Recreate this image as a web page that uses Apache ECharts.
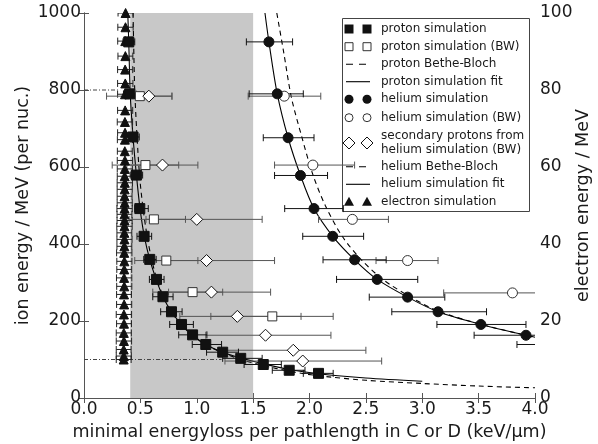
<!DOCTYPE html>
<html>
<head>
<meta charset="utf-8">
<script src="https://cdn.jsdelivr.net/npm/echarts@6/dist/echarts.min.js"></script>
<style>
  html, body { margin: 0; padding: 0; background: #fff; }
  #chart { width: 598px; height: 444px; }
</style>
</head>
<body>
<div id="chart"></div>
<script>
// ---- proton simulation (filled squares): energy per nucleon, energy loss, error range
const protonSimE  = [925, 790, 678, 579, 492, 420, 360, 308, 263, 224, 191, 164, 139, 119, 103, 87, 72, 64];
const protonSimX  = [0.397, 0.405, 0.435, 0.465, 0.495, 0.533, 0.583, 0.643, 0.700, 0.776, 0.865, 0.963, 1.08, 1.23, 1.39, 1.59, 1.82, 2.08];
const protonSimLo = [0.346, 0.350, 0.380, 0.410, 0.450, 0.470, 0.530, 0.580, 0.610, 0.680, 0.760, 0.840, 0.960, 1.087, 1.23, 1.42, 1.67, 1.945];
const protonSimHi = [0.450, 0.460, 0.490, 0.520, 0.570, 0.600, 0.640, 0.710, 0.790, 0.870, 0.970, 1.090, 1.220, 1.370, 1.58, 1.75, 1.96, 2.21];

// ---- proton simulation (BW) (open squares)
const protonBwE  = [784, 605, 464, 357, 275, 212];
const protonBwX  = [0.495, 0.545, 0.62, 0.73, 0.963, 1.67];
const protonBwLo = [0.20, 0.25, 0.40, 0.45, 0.61, 1.125];
const protonBwHi = [0.78, 0.84, 0.90, 1.01, 1.23, 2.21];

// ---- secondary protons from helium simulation (BW) (open diamonds)
const secondaryE  = [784, 605, 464, 357, 275, 212, 163, 124, 96];
const secondaryX  = [0.575, 0.696, 1.00, 1.087, 1.13, 1.36, 1.61, 1.856, 1.94];
const secondaryLo = [0.37, 0.38, 0.55, 0.60, 0.75, 0.85, 1.08, 1.20, 1.25];
const secondaryHi = [0.78, 1.01, 1.58, 1.69, 1.655, 1.925, 2.19, 2.50, 2.64];

// ---- helium simulation (filled circles)
const heliumSimE  = [925, 790, 676, 578, 492, 420, 359, 308, 262, 224, 191, 163, 139];
const heliumSimX  = [1.64, 1.714, 1.81, 1.92, 2.04, 2.206, 2.40, 2.60, 2.87, 3.14, 3.52, 3.92, 4.30];
const heliumSimLo = [1.44, 1.465, 1.59, 1.69, 1.78, 1.94, 2.12, 2.24, 2.53, 2.73, 3.13, 3.46, 3.84];
const heliumSimHi = [1.85, 1.945, 2.04, 2.16, 2.30, 2.48, 2.68, 2.96, 3.20, 3.57, 3.92, 4.40, 4.76];

// ---- helium simulation (BW) (open circles)
const heliumBwE  = [784, 605, 464, 357, 273];
const heliumBwX  = [1.776, 2.03, 2.38, 2.87, 3.80];
const heliumBwLo = [1.456, 1.69, 2.08, 2.59, 3.19];
const heliumBwHi = [2.10, 2.40, 2.70, 3.14, 4.41];

// ---- electron simulation (triangles), electron energy in MeV (right axis)
const electronE  = [10, 10.9, 12.6, 14.8, 16.9, 19.3, 21.7, 24.3, 26.9, 29.0, 31.2, 33.4, 35.5, 37.7, 39.4, 41.2, 42.9, 44.6, 46.1, 47.7,
                    49.2, 50.7, 52.4, 54.2, 55.9, 57.6, 59.5, 61.7, 64.1, 67.1, 68.9, 71.7, 74.7, 78.9, 81.7, 85.3, 88.8, 92.7, 96.3, 100];
const electronX  = [0.352, 0.353, 0.352, 0.354, 0.353, 0.355, 0.354, 0.356, 0.355, 0.357, 0.356, 0.357, 0.358, 0.357, 0.358, 0.359, 0.358, 0.359, 0.360, 0.359,
                    0.360, 0.361, 0.360, 0.361, 0.362, 0.361, 0.362, 0.363, 0.362, 0.363, 0.364, 0.363, 0.365, 0.364, 0.366, 0.365, 0.367, 0.366, 0.368, 0.369];
const electronDx = [0.066, 0.067, 0.066, 0.068, 0.067, 0.066, 0.068, 0.067, 0.066, 0.067, 0.068, 0.066, 0.067, 0.068, 0.066, 0.067, 0.066, 0.068, 0.067, 0.066,
                    0.068, 0.067, 0.066, 0.067, 0.068, 0.066, 0.067, 0.068, 0.066, 0.067, 0.066, 0.068, 0.067, 0.066, 0.068, 0.067, 0.066, 0.067, 0.068, 0.067];

// ---- curves: proton / helium fits and Bethe-Bloch expectations
const protonFitX = [0.388, 0.397, 0.41, 0.435, 0.465, 0.497, 0.535, 0.583, 0.64, 0.70, 0.776, 0.865, 0.963, 1.08, 1.23, 1.40, 1.60, 1.82, 2.08, 2.5, 3.0];
const protonFitE = [1000, 925, 790, 678, 579, 492, 420, 360, 308, 263, 224, 191, 164, 139, 119, 103, 88, 74, 63, 52, 43.6];
const protonBBX  = [0.435, 0.44, 0.45, 0.47, 0.495, 0.525, 0.56, 0.60, 0.65, 0.71, 0.78, 0.87, 0.97, 1.10, 1.25, 1.45, 1.70, 1.95, 2.2, 2.5, 3.0, 3.5, 4.0];
const protonBBE  = [1000, 925, 800, 680, 570, 490, 420, 360, 305, 260, 222, 188, 160, 135, 115, 95, 77, 63, 54, 46, 37.7, 31, 26.5];
const heliumFitX = [1.605, 1.64, 1.714, 1.81, 1.92, 2.04, 2.206, 2.40, 2.60, 2.87, 3.14, 3.52, 3.92, 4.0];
const heliumFitE = [1000, 925, 790, 676, 578, 492, 420, 359, 308, 262, 224, 191, 163, 158];
const heliumBBX  = [1.71, 1.77, 1.84, 1.93, 2.03, 2.14, 2.29, 2.46, 2.65, 2.88, 3.14, 3.50, 3.90, 4.0];
const heliumBBE  = [1000, 900, 780, 680, 580, 500, 420, 359, 308, 265, 226, 193, 164, 157];

// ---- shaded acceptance band and horizontal reference lines
const shadedBand = [0.41, 1.5];
const refLineE    = [800, 100];
const refLineXEnd = [0.32, 1.22];

// ---- axis ticks
const xTicks = { min: 0, max: 4, interval: 0.5 };
const ionTicks = { min: 0, max: 1000, interval: 200 };
const eTicks = { min: 0, max: 100, interval: 20 };

const FONT = 'DejaVu Sans';
const TXT = '#1a1a1a';
const SPINE = '#555';
const BW = '#555';

function pts(xs, ys) { return xs.map((x, i) => [x, ys[i]]); }
function bars(xs, ys, lo, hi) { return xs.map((x, i) => [x, ys[i], lo[i], hi[i]]); }

function errorBars(color) {
  return function (params, api) {
    const y = api.value(1), lo = api.value(2), hi = api.value(3);
    const a = api.coord([lo, y]), b = api.coord([hi, y]);
    const h = 3.5;
    const st = { stroke: color, lineWidth: 1 };
    return {
      type: 'group',
      children: [
        { type: 'line', shape: { x1: a[0], y1: a[1], x2: b[0], y2: b[1] }, style: st },
        { type: 'line', shape: { x1: a[0], y1: a[1] - h, x2: a[0], y2: a[1] + h }, style: st },
        { type: 'line', shape: { x1: b[0], y1: b[1] - h, x2: b[0], y2: b[1] + h }, style: st }
      ]
    };
  };
}

function errorSeries(data, color, yAxisIndex) {
  return {
    type: 'custom', renderItem: errorBars(color), data: data,
    encode: { x: 0, y: 1 }, yAxisIndex: yAxisIndex || 0, clip: true, silent: true, z: 4
  };
}

function curve(data, dashed) {
  return {
    type: 'line', data: data, showSymbol: false, smooth: 0.3, silent: true, z: 3,
    lineStyle: { color: '#000', width: 1.1, type: dashed ? [5, 4] : 'solid' }
  };
}

function markers(data, symbol, size, fill, stroke, yAxisIndex) {
  return {
    type: 'scatter', data: data, symbol: symbol, symbolSize: size, yAxisIndex: yAxisIndex || 0,
    silent: true, z: 5, clip: true,
    itemStyle: { color: fill, borderColor: stroke, borderWidth: 1, opacity: 1 }
  };
}

const electronBars = electronX.map((x, i) => [x, electronE[i], x - electronDx[i], x + electronDx[i]]);

const series = [
  // shaded band
  {
    type: 'custom', z: 1, silent: true, data: [shadedBand],
    renderItem: function (params, api) {
      const a = api.coord([api.value(0), ionTicks.max]);
      const b = api.coord([api.value(1), ionTicks.min]);
      return { type: 'rect', shape: { x: a[0], y: a[1], width: b[0] - a[0], height: b[1] - a[1] }, style: { fill: '#c8c8c8' } };
    },
    encode: { x: [0, 1] }
  },
  // horizontal dash-dot reference lines
  {
    type: 'custom', z: 2, silent: true, data: refLineE.map((e, i) => [refLineXEnd[i], e]),
    encode: { x: 0, y: 1 },
    renderItem: function (params, api) {
      const a = api.coord([0, api.value(1)]);
      const b = api.coord([api.value(0), api.value(1)]);
      return { type: 'line', shape: { x1: a[0], y1: a[1], x2: b[0], y2: b[1] }, style: { stroke: '#444', lineWidth: 1, lineDash: [4, 2, 1, 2] } };
    }
  },
  curve(pts(protonBBX, protonBBE), true),
  curve(pts(protonFitX, protonFitE), false),
  curve(pts(heliumBBX, heliumBBE), true),
  curve(pts(heliumFitX, heliumFitE), false),
  errorSeries(electronBars, '#222', 1),
  errorSeries(bars(protonBwX, protonBwE, protonBwLo, protonBwHi), BW),
  errorSeries(bars(secondaryX, secondaryE, secondaryLo, secondaryHi), BW),
  errorSeries(bars(heliumBwX, heliumBwE, heliumBwLo, heliumBwHi), BW),
  errorSeries(bars(protonSimX, protonSimE, protonSimLo, protonSimHi), '#111'),
  errorSeries(bars(heliumSimX, heliumSimE, heliumSimLo, heliumSimHi), '#111'),
  markers(pts(electronX, electronE), 'triangle', 9, '#111', '#111', 1),
  markers(pts(protonBwX, protonBwE), 'rect', 9, '#fff', '#333'),
  markers(pts(secondaryX, secondaryE), 'diamond', 12, '#fff', '#111'),
  markers(pts(heliumBwX, heliumBwE), 'circle', 10, '#fff', '#333'),
  markers(pts(protonSimX, protonSimE), 'rect', 10, '#111', '#111'),
  markers(pts(heliumSimX, heliumSimE), 'circle', 10, '#111', '#111')
];

// ---- legend drawn as graphic elements
const LX = 342, LY = 18, LW = 187, LH = 193;
const M1 = 349, M2 = 367, TX = 381;
function legendSym(kind, x, y) {
  switch (kind) {
    case 'sq': return { type: 'rect', shape: { x: x - 4.5, y: y - 4.5, width: 9, height: 9 }, style: { fill: '#111' } };
    case 'osq': return { type: 'rect', shape: { x: x - 4, y: y - 4, width: 8, height: 8 }, style: { fill: '#fff', stroke: '#333', lineWidth: 1 } };
    case 'ci': return { type: 'circle', shape: { cx: x, cy: y, r: 4.5 }, style: { fill: '#111' } };
    case 'oci': return { type: 'circle', shape: { cx: x, cy: y, r: 4 }, style: { fill: '#fff', stroke: '#333', lineWidth: 1 } };
    case 'di': return { type: 'polygon', shape: { points: [[x, y - 6], [x + 6, y], [x, y + 6], [x - 6, y]] }, style: { fill: '#fff', stroke: '#111', lineWidth: 1 } };
    case 'tri': return { type: 'polygon', shape: { points: [[x, y - 5], [x + 5, y + 4], [x - 5, y + 4]] }, style: { fill: '#111' } };
  }
}
const legendRows = [
  { kind: 'sq', y: 29, text: 'proton simulation' },
  { kind: 'osq', y: 46.7, text: 'proton simulation (BW)' },
  { kind: 'dash', y: 64.3, text: 'proton Bethe-Bloch' },
  { kind: 'solid', y: 81.7, text: 'proton simulation fit' },
  { kind: 'ci', y: 99.3, text: 'helium simulation' },
  { kind: 'oci', y: 117.7, text: 'helium simulation (BW)' },
  { kind: 'di', y: 143, text: 'secondary protons from\nhelium simulation (BW)' },
  { kind: 'dash', y: 166.7, text: 'helium Bethe-Bloch' },
  { kind: 'solid', y: 184.3, text: 'helium simulation fit' },
  { kind: 'tri', y: 201.7, text: 'electron simulation' }
];
const legendChildren = [
  { type: 'rect', shape: { x: LX + 0.5, y: LY + 0.5, width: LW, height: LH }, style: { fill: '#fff', stroke: '#444', lineWidth: 1 } }
];
legendRows.forEach(r => {
  if (r.kind === 'dash' || r.kind === 'solid') {
    legendChildren.push({
      type: 'line', shape: { x1: 346, y1: r.y, x2: 370, y2: r.y },
      style: { stroke: '#000', lineWidth: 1.1, lineDash: r.kind === 'dash' ? [7, 6] : null }
    });
  } else {
    legendChildren.push(legendSym(r.kind, M1, r.y));
    legendChildren.push(legendSym(r.kind, M2, r.y));
  }
  legendChildren.push({
    type: 'text',
    style: { text: r.text, x: TX, y: r.y, verticalAlign: 'middle', fill: TXT, fontSize: 12, fontFamily: FONT, lineHeight: 14 }
  });
});

const axisCommon = {
  axisLine: { show: true, lineStyle: { color: SPINE, width: 1 } },
  axisTick: { show: true, inside: true, length: 5, lineStyle: { color: SPINE } },
  splitLine: { show: false },
  nameMoveOverlap: false
};

const option = {
  animation: false,
  backgroundColor: '#fff',
  grid: { left: 84, right: 63, top: 13, bottom: 46, containLabel: false, outerBoundsMode: 'none' },
  xAxis: [
    Object.assign({
      type: 'value', position: 'bottom', min: xTicks.min, max: xTicks.max, interval: xTicks.interval,
      axisLabel: { formatter: v => v.toFixed(1), fontSize: 17, fontFamily: FONT, color: TXT, margin: 3 },
      name: 'minimal energyloss per pathlength in C or D (keV/\u03bcm)',
      nameLocation: 'middle', nameGap: 25,
      nameTextStyle: { fontSize: 17.5, fontFamily: FONT, color: TXT }
    }, axisCommon),
    Object.assign({
      type: 'value', position: 'top', min: xTicks.min, max: xTicks.max, interval: xTicks.interval,
      axisLabel: { show: false }
    }, axisCommon)
  ],
  yAxis: [
    Object.assign({
      type: 'value', position: 'left', min: ionTicks.min, max: ionTicks.max, interval: ionTicks.interval,
      axisLabel: { formatter: v => String(v), fontSize: 17, fontFamily: FONT, color: TXT, margin: 3 },
      name: 'ion energy / MeV (per nuc.)', nameLocation: 'middle', nameGap: 52,
      nameTextStyle: { fontSize: 17.5, fontFamily: FONT, color: TXT }
    }, axisCommon),
    Object.assign({
      type: 'value', position: 'right', min: eTicks.min, max: eTicks.max, interval: eTicks.interval,
      axisLabel: { formatter: v => String(v), fontSize: 17, fontFamily: FONT, color: TXT, margin: 5 },
      name: 'electron energy / MeV', nameLocation: 'middle', nameGap: 39,
      nameTextStyle: { fontSize: 17.5, fontFamily: FONT, color: TXT }
    }, axisCommon)
  ],
  series: series,
  graphic: [{ type: 'group', z: 100, children: legendChildren }]
};

const chart = echarts.init(document.getElementById('chart'), null, { renderer: 'canvas' });
chart.setOption(option);
</script>
</body>
</html>
